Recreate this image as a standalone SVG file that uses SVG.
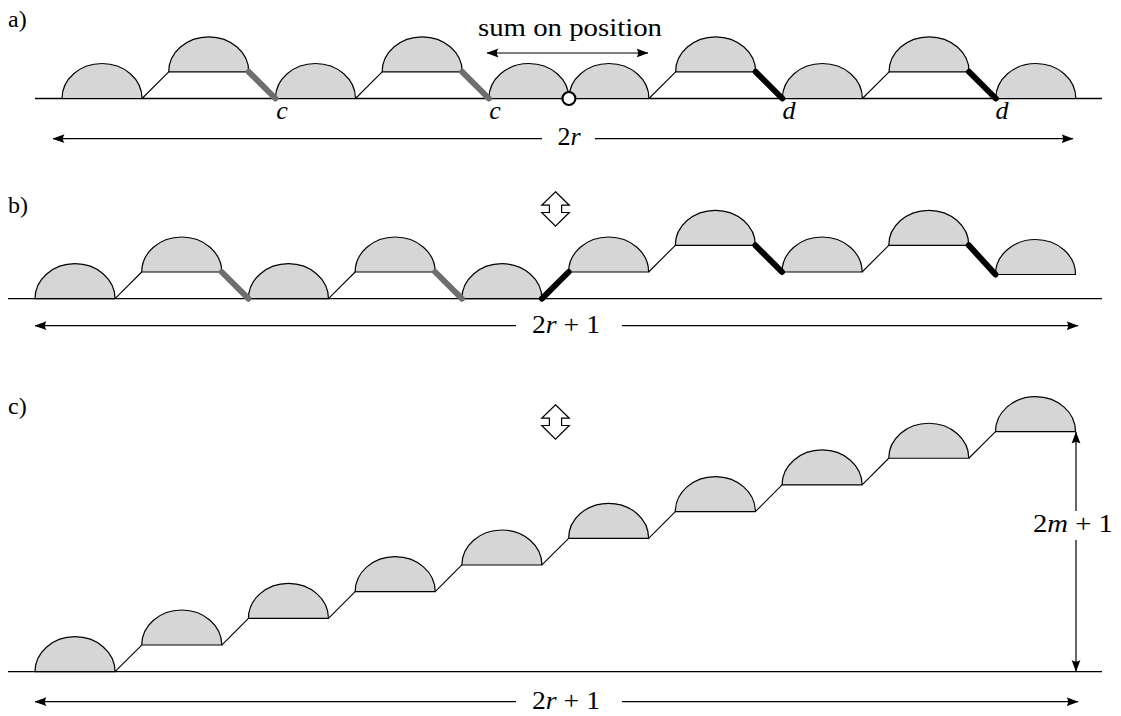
<svg xmlns="http://www.w3.org/2000/svg" width="1121" height="716" viewBox="0 0 1121 716">
<style>
  .hump{fill:#d6d6d6;stroke:#000;stroke-width:1.2;stroke-linejoin:round}
  .base{stroke:#000;stroke-width:1.3;fill:none}
  .thin{stroke:#000;stroke-width:1.1;fill:none}
  .gray{stroke:#6e6e6e;stroke-width:6;stroke-linecap:round;fill:none}
  .blk{stroke:#000;stroke-width:6;stroke-linecap:round;fill:none}
  .arr{stroke:#000;stroke-width:1.2;fill:none}
  .ud{fill:#fff;stroke:#000;stroke-width:1.2;stroke-linejoin:miter}
  text{font-family:"Liberation Serif","Times New Roman",Times,"DejaVu Serif","Noto Serif",FreeSerif,serif;fill:#000}
</style>
<defs>
  <marker id="ah" viewBox="0 0 12 10" refX="11.5" refY="5" markerWidth="12" markerHeight="10" markerUnits="userSpaceOnUse" orient="auto-start-reverse">
    <path d="M0,0.6 L12,5 L0,9.4 Q3.2,5 0,0.6 Z" fill="#000"/>
  </marker>
  <path id="hump" d="M0,0 A40.02,35 0 0 1 80.04,0 Z"/>
  <polygon id="updown" points="0,-17.2 13.8,-3.8 6.1,-3.8 6.1,3.5 13.8,3.5 0,17.2 -13.8,3.5 -6.1,3.5 -6.1,-3.8 -13.8,-3.8"/>
</defs>

<g id="labels" font-size="24">
  <text x="8" y="27">a)</text>
  <text x="8" y="213">b)</text>
  <text x="8" y="414">c)</text>
</g>

<!-- Row a -->
<g id="row-a">
  <line class="base" x1="35" y1="98.5" x2="1102" y2="98.5"/>
  <g id="a-steps">
    <line class="thin" x1="142.04" y1="98.5" x2="168.72" y2="71.8"/>
    <line class="thin" x1="355.48" y1="98.5" x2="382.16" y2="71.8"/>
    <line class="thin" x1="648.96" y1="98.5" x2="675.64" y2="71.8"/>
    <line class="thin" x1="862.4" y1="98.5" x2="889.08" y2="71.8"/>
  </g>
  <g id="a-humps">
    <use href="#hump" class="hump" x="62" y="98.5"/>
    <use href="#hump" class="hump" x="168.72" y="71.8"/>
    <use href="#hump" class="hump" x="275.44" y="98.5"/>
    <use href="#hump" class="hump" x="382.16" y="71.8"/>
    <use href="#hump" class="hump" x="488.88" y="98.5"/>
    <use href="#hump" class="hump" x="568.92" y="98.5"/>
    <use href="#hump" class="hump" x="675.64" y="71.8"/>
    <use href="#hump" class="hump" x="782.36" y="98.5"/>
    <use href="#hump" class="hump" x="889.08" y="71.8"/>
    <use href="#hump" class="hump" x="995.8" y="98.5"/>
  </g>
  <g id="a-marked">
    <line class="gray" x1="248.76" y1="71.8" x2="275.44" y2="98.5"/>
    <line class="gray" x1="462.2" y1="71.8" x2="488.88" y2="98.5"/>
    <line class="blk" x1="755.68" y1="71.8" x2="782.36" y2="98.5"/>
    <line class="blk" x1="969.12" y1="71.8" x2="995.8" y2="98.5"/>
  </g>
  <circle id="a-circle" cx="568.92" cy="98.5" r="6.5" fill="#fff" stroke="#000" stroke-width="2.2"/>
  <g id="a-texts" font-size="26">
    <text x="282" y="119" text-anchor="middle" font-style="italic">c</text>
    <text x="495" y="119" text-anchor="middle" font-style="italic">c</text>
    <text x="789" y="119" text-anchor="middle" font-style="italic">d</text>
    <text x="1002" y="119" text-anchor="middle" font-style="italic">d</text>
    <text x="570" y="35.5" text-anchor="middle" textLength="184" lengthAdjust="spacingAndGlyphs">sum on position</text>
    <text x="569" y="145" text-anchor="middle">2<tspan font-style="italic">r</tspan></text>
  </g>
</g>

<!-- Row b -->
<g id="row-b">
  <line class="base" x1="8" y1="298.7" x2="1102" y2="298.7"/>
  <g id="b-steps">
    <line class="thin" x1="115.04" y1="298.7" x2="141.72" y2="272"/>
    <line class="thin" x1="328.48" y1="298.7" x2="355.16" y2="272"/>
    <line class="thin" x1="648.64" y1="272" x2="675.32" y2="245.3"/>
    <line class="thin" x1="862.08" y1="272" x2="888.76" y2="245.3"/>
  </g>
  <g id="b-humps">
    <use href="#hump" class="hump" x="35" y="298.7"/>
    <use href="#hump" class="hump" x="141.72" y="272"/>
    <use href="#hump" class="hump" x="248.44" y="298.7"/>
    <use href="#hump" class="hump" x="355.16" y="272"/>
    <use href="#hump" class="hump" x="461.88" y="298.7"/>
    <use href="#hump" class="hump" x="568.6" y="272"/>
    <use href="#hump" class="hump" x="675.32" y="245.3"/>
    <use href="#hump" class="hump" x="782.04" y="272"/>
    <use href="#hump" class="hump" x="888.76" y="245.3"/>
    <use href="#hump" class="hump" x="995.48" y="274.5"/>
  </g>
  <g id="b-marked">
    <line class="gray" x1="221.76" y1="272" x2="248.44" y2="298.7"/>
    <line class="gray" x1="435.2" y1="272" x2="461.88" y2="298.7"/>
    <line class="blk" x1="541.92" y1="298.7" x2="568.6" y2="272"/>
    <line class="blk" x1="755.36" y1="245.3" x2="782.04" y2="272"/>
    <line class="blk" x1="968.8" y1="245.3" x2="995.48" y2="274.5"/>
  </g>
  <use id="b-updown" href="#updown" class="ud" x="555.5" y="209"/>
  <text x="566" y="333" text-anchor="middle" font-size="26" textLength="68" lengthAdjust="spacingAndGlyphs">2<tspan font-style="italic">r</tspan> + 1</text>
</g>

<!-- Row c -->
<g id="row-c">
  <line class="base" x1="8" y1="671.7" x2="1102" y2="671.7"/>
  <g id="c-steps">
    <line class="thin" x1="115.04" y1="671.7" x2="141.72" y2="645.02"/>
    <line class="thin" x1="221.76" y1="645.02" x2="248.44" y2="618.34"/>
    <line class="thin" x1="328.48" y1="618.34" x2="355.16" y2="591.66"/>
    <line class="thin" x1="435.2" y1="591.66" x2="461.88" y2="564.98"/>
    <line class="thin" x1="541.92" y1="564.98" x2="568.6" y2="538.3"/>
    <line class="thin" x1="648.64" y1="538.3" x2="675.32" y2="511.62"/>
    <line class="thin" x1="755.36" y1="511.62" x2="782.04" y2="484.94"/>
    <line class="thin" x1="862.08" y1="484.94" x2="888.76" y2="458.26"/>
    <line class="thin" x1="968.8" y1="458.26" x2="995.48" y2="431.58"/>
  </g>
  <g id="c-humps">
    <use href="#hump" class="hump" x="35" y="671.7"/>
    <use href="#hump" class="hump" x="141.72" y="645.02"/>
    <use href="#hump" class="hump" x="248.44" y="618.34"/>
    <use href="#hump" class="hump" x="355.16" y="591.66"/>
    <use href="#hump" class="hump" x="461.88" y="564.98"/>
    <use href="#hump" class="hump" x="568.6" y="538.3"/>
    <use href="#hump" class="hump" x="675.32" y="511.62"/>
    <use href="#hump" class="hump" x="782.04" y="484.94"/>
    <use href="#hump" class="hump" x="888.76" y="458.26"/>
    <use href="#hump" class="hump" x="995.48" y="431.58"/>
  </g>
  <use id="c-updown" href="#updown" class="ud" x="555.5" y="422"/>
  <g font-size="26">
    <text x="566" y="708.5" text-anchor="middle" textLength="68" lengthAdjust="spacingAndGlyphs">2<tspan font-style="italic">r</tspan> + 1</text>
    <text x="1073" y="532" text-anchor="middle" textLength="80" lengthAdjust="spacingAndGlyphs">2<tspan font-style="italic">m</tspan> + 1</text>
  </g>
</g>

<!-- Dimension arrows -->
<g id="connectors">
  <line class="arr" x1="487" y1="53" x2="648" y2="53" marker-start="url(#ah)" marker-end="url(#ah)"/>
  <line class="arr" x1="542" y1="138.7" x2="53" y2="138.7" marker-end="url(#ah)"/>
  <line class="arr" x1="595" y1="138.7" x2="1073" y2="138.7" marker-end="url(#ah)"/>
  <line class="arr" x1="516" y1="325.7" x2="35" y2="325.7" marker-end="url(#ah)"/>
  <line class="arr" x1="622" y1="325.7" x2="1078" y2="325.7" marker-end="url(#ah)"/>
  <line class="arr" x1="516" y1="701.7" x2="35" y2="701.7" marker-end="url(#ah)"/>
  <line class="arr" x1="622" y1="701.7" x2="1078" y2="701.7" marker-end="url(#ah)"/>
  <line class="arr" x1="1076" y1="511" x2="1076" y2="432" marker-end="url(#ah)"/>
  <line class="arr" x1="1076" y1="540" x2="1076" y2="671.5" marker-end="url(#ah)"/>
</g>
</svg>
